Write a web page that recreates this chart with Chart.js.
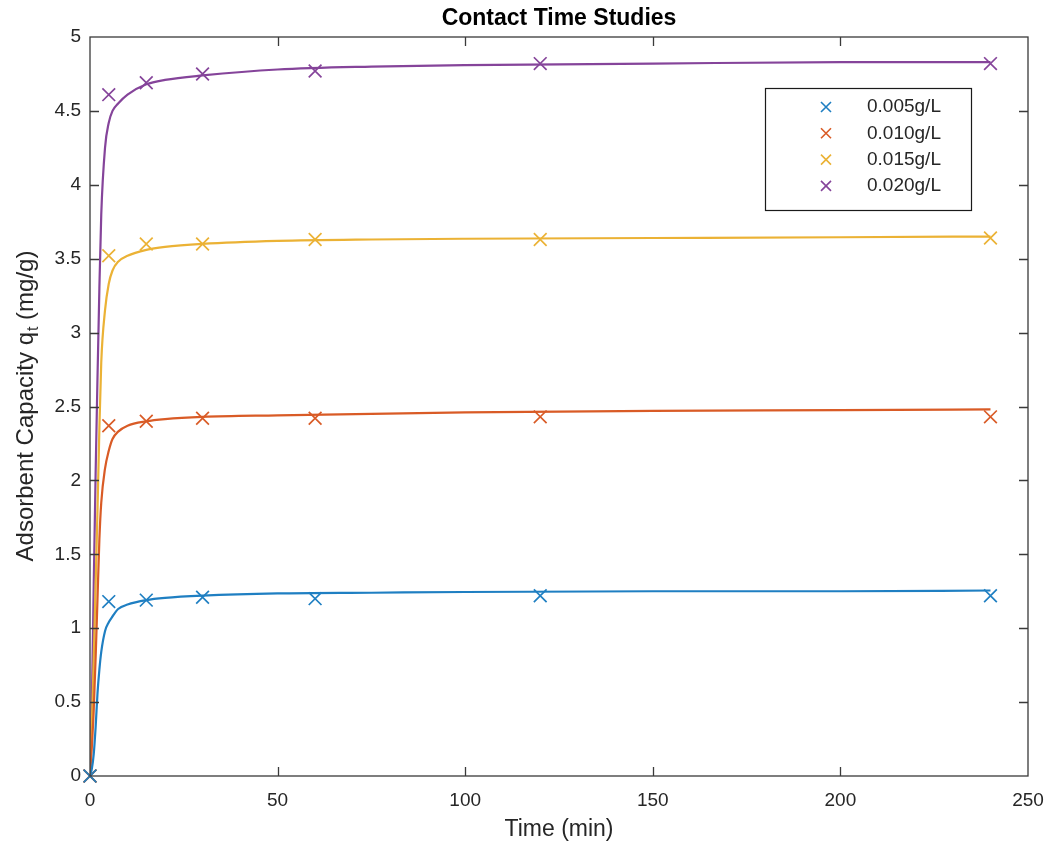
<!DOCTYPE html>
<html>
<head>
<meta charset="utf-8">
<title>Contact Time Studies</title>
<script src="https://cdn.jsdelivr.net/npm/chart.js@4.4.1/dist/chart.umd.min.js"></script>
<style>
  html, body { margin: 0; padding: 0; background: #fff; }
  #wrap { width: 1046px; height: 846px; position: relative; }
</style>
</head>
<body>
<div id="wrap"><canvas id="grafico"></canvas></div>
<script>
// measured points (time in min, capacity in mg/g)
const tempos = [0, 5, 15, 30, 60, 120, 240];
const q005 = [0, 1.18, 1.19, 1.21, 1.20, 1.22, 1.22];
const q010 = [0, 2.37, 2.40, 2.42, 2.42, 2.43, 2.43];
const q015 = [0, 3.52, 3.60, 3.60, 3.63, 3.63, 3.64];
const q020 = [0, 4.61, 4.69, 4.75, 4.77, 4.82, 4.82];

// fitted kinetic curves, sampled along time
const tempoAjuste = [0, 0.5, 1, 1.5, 2, 2.5, 3, 4, 5, 6, 7.5, 10, 15, 20, 30, 50, 75, 100, 150, 200, 240];
const ajuste005 = [0, 0.05, 0.15, 0.33, 0.56, 0.72, 0.84, 0.98, 1.04, 1.08, 1.13, 1.16, 1.19, 1.205, 1.22, 1.235, 1.24, 1.245, 1.25, 1.25, 1.255];
const ajuste010 = [0, 0.2, 0.45, 0.8, 1.2, 1.6, 1.85, 2.08, 2.2, 2.28, 2.33, 2.37, 2.40, 2.415, 2.43, 2.44, 2.45, 2.46, 2.47, 2.475, 2.48];
const ajuste015 = [0, 0.35, 0.8, 1.3, 1.8, 2.35, 2.8, 3.15, 3.33, 3.42, 3.48, 3.52, 3.56, 3.58, 3.60, 3.62, 3.63, 3.635, 3.64, 3.645, 3.65];
const ajuste020 = [0, 0.5, 1.3, 2.05, 2.7, 3.3, 3.8, 4.25, 4.42, 4.5, 4.55, 4.61, 4.68, 4.71, 4.74, 4.78, 4.80, 4.81, 4.82, 4.83, 4.83];

const rotulos = ['0.005g/L', '0.010g/L', '0.015g/L', '0.020g/L'];
const cores = ['#1f7fc2', '#d95b26', '#ebb235', '#85449a'];

const fonte = '"Liberation Sans", Arial, Helvetica, sans-serif';
const corTexto = '#262626';

function pares(xs, ys) {
    return xs.map((x, i) => ({ x: x, y: ys[i] }));
}

const medidas = [q005, q010, q015, q020];
const ajustes = [ajuste005, ajuste010, ajuste015, ajuste020];

const datasets = [];
ajustes.forEach((serie, i) => {
    datasets.push({
        type: 'line',
        label: 'ajuste ' + rotulos[i],
        data: pares(tempoAjuste, serie),
        borderColor: cores[i],
        borderWidth: 2.2,
        pointRadius: 0,
        fill: false,
        cubicInterpolationMode: 'monotone',
        order: 2
    });
});
medidas.forEach((serie, i) => {
    datasets.push({
        type: 'scatter',
        label: rotulos[i],
        data: pares(tempos, serie),
        borderColor: cores[i],
        backgroundColor: cores[i],
        pointStyle: 'crossRot',
        pointRadius: 9,
        pointBorderWidth: 1.7,
        showLine: false,
        clip: false,
        isMarker: true,
        order: 1
    });
});

// frame, inward ticks, titles and legend box
const moldura = {
    id: 'moldura',
    afterDraw(chart) {
        const ctx = chart.ctx;
        const a = chart.chartArea;
        const sx = chart.scales.x;
        const sy = chart.scales.y;
        const tam = 9;

        ctx.save();
        ctx.strokeStyle = '#3a3a3a';
        ctx.lineWidth = 1.3;
        ctx.strokeRect(a.left, a.top, a.right - a.left, a.bottom - a.top);

        ctx.beginPath();
        sx.ticks.forEach(t => {
            const px = Math.round(sx.getPixelForValue(t.value)) + 0.5;
            if (px <= a.left + 1 || px >= a.right - 1) return;
            ctx.moveTo(px, a.bottom);
            ctx.lineTo(px, a.bottom - tam);
            ctx.moveTo(px, a.top);
            ctx.lineTo(px, a.top + tam);
        });
        sy.ticks.forEach(t => {
            const py = Math.round(sy.getPixelForValue(t.value)) + 0.5;
            if (py <= a.top + 1 || py >= a.bottom - 1) return;
            ctx.moveTo(a.left, py);
            ctx.lineTo(a.left + tam, py);
            ctx.moveTo(a.right, py);
            ctx.lineTo(a.right - tam, py);
        });
        ctx.stroke();

        // title
        ctx.fillStyle = '#000';
        ctx.font = 'bold 23px ' + fonte;
        ctx.textAlign = 'center';
        ctx.textBaseline = 'middle';
        ctx.fillText('Contact Time Studies', (a.left + a.right) / 2, 19);

        // x axis title
        ctx.fillStyle = corTexto;
        ctx.font = '23px ' + fonte;
        ctx.fillText('Time (min)', (a.left + a.right) / 2, 830);

        // y axis title with subscript t
        const parte1 = 'Adsorbent Capacity q';
        const sub = 't';
        const parte2 = ' (mg/g)';
        ctx.translate(25, (a.top + a.bottom) / 2);
        ctx.rotate(-Math.PI / 2);
        ctx.font = '24px ' + fonte;
        const w1 = ctx.measureText(parte1).width;
        const w3 = ctx.measureText(parte2).width;
        ctx.font = '16px ' + fonte;
        const w2 = ctx.measureText(sub).width;
        const total = w1 + w2 + w3;
        let x0 = -total / 2;
        ctx.textAlign = 'left';
        ctx.textBaseline = 'alphabetic';
        ctx.font = '24px ' + fonte;
        ctx.fillText(parte1, x0, 8);
        ctx.font = '16px ' + fonte;
        ctx.fillText(sub, x0 + w1 + 1, 13);
        ctx.font = '24px ' + fonte;
        ctx.fillText(parte2, x0 + w1 + w2 + 1, 8);
        ctx.restore();

        // legend
        const caixa = { x: 765.5, y: 88.5, w: 206, h: 122 };
        ctx.save();
        ctx.fillStyle = '#fff';
        ctx.fillRect(caixa.x, caixa.y, caixa.w, caixa.h);
        ctx.strokeStyle = '#1a1a1a';
        ctx.lineWidth = 1.2;
        ctx.strokeRect(caixa.x, caixa.y, caixa.w, caixa.h);
        ctx.font = '19px ' + fonte;
        ctx.textAlign = 'left';
        ctx.textBaseline = 'middle';
        const marcas = chart.data.datasets.filter(d => d.isMarker);
        marcas.forEach((d, i) => {
            const cy = 107 + i * 26.3;
            const cx = 826;
            const r = 5;
            ctx.strokeStyle = d.borderColor;
            ctx.lineWidth = 1.6;
            ctx.beginPath();
            ctx.moveTo(cx - r, cy - r);
            ctx.lineTo(cx + r, cy + r);
            ctx.moveTo(cx + r, cy - r);
            ctx.lineTo(cx - r, cy + r);
            ctx.stroke();
            ctx.fillStyle = corTexto;
            ctx.fillText(d.label, 867, cy);
        });
        ctx.restore();
    }
};

const ctx = document.getElementById('grafico').getContext('2d');
window.meuGrafico = new Chart(ctx, {
    data: { datasets },
    options: {
        responsive: true,
        maintainAspectRatio: false,
        animation: false,
        layout: { padding: { top: 37, right: 18, left: 0, bottom: 0 } },
        plugins: {
            legend: { display: false },
            tooltip: { enabled: false },
            title: { display: false }
        },
        scales: {
            x: {
                type: 'linear',
                min: 0,
                max: 250,
                grid: { display: false, drawTicks: false },
                border: { display: false },
                ticks: {
                    stepSize: 50,
                    color: corTexto,
                    font: { family: fonte, size: 19 },
                    padding: 13,
                    maxRotation: 0
                },
                afterFit(scale) {
                    scale.height = 70;
                    scale.paddingLeft = 0;
                    scale.paddingRight = 0;
                }
            },
            y: {
                type: 'linear',
                min: 0,
                max: 5,
                grid: { display: false, drawTicks: false },
                border: { display: false },
                ticks: {
                    stepSize: 0.5,
                    color: corTexto,
                    font: { family: fonte, size: 19 },
                    padding: 9,
                    callback: v => String(v)
                },
                afterFit(scale) {
                    scale.width = 90;
                    scale.paddingTop = 0;
                    scale.paddingBottom = 0;
                }
            }
        }
    },
    plugins: [moldura]
});
</script>
</body>
</html>
